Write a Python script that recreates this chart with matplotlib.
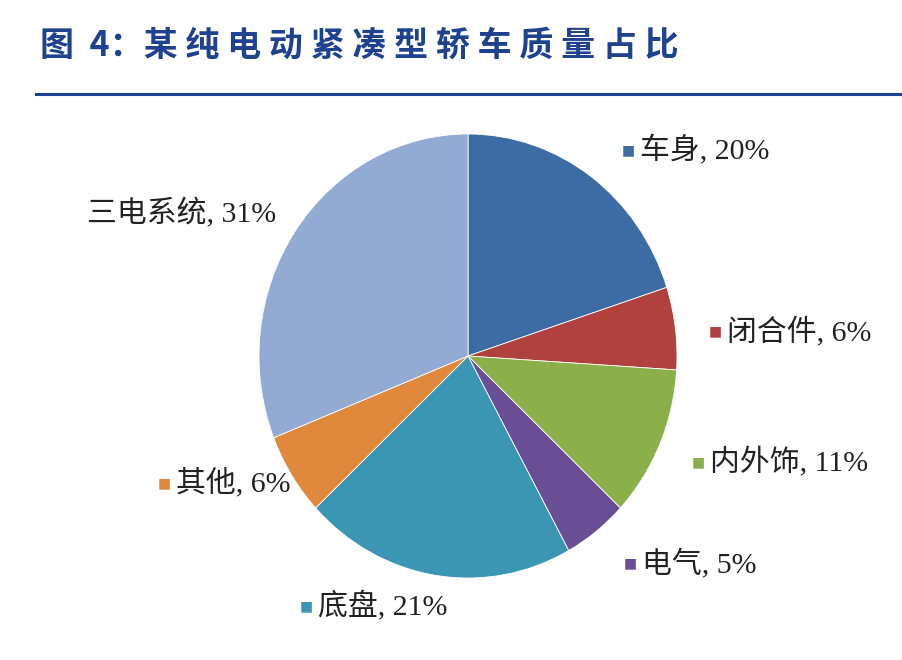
import matplotlib
matplotlib.use("Agg")
import matplotlib.pyplot as plt
from matplotlib.lines import Line2D

# data
categories = ["车身", "闭合件", "内外饰", "电气", "底盘", "其他", "三电系统"]
shares = [20, 6, 11, 5, 21, 6, 31]
colors = ["#3c6ca3", "#b0413e", "#8aaf4b", "#6a4e95", "#3a96b2", "#e0883c", "#93aad3"]
show_marker = [True, True, True, True, True, True, False]
title_head = "图  4："
title_body = "某纯电动紧凑型轿车质量占比"

# label anchors in figure pixels (left edge of text, vertical centre)
label_px = [(640, 150), (727, 331), (710, 462), (642, 563), (318, 606), (176, 483), (87, 213)]

W, H = 902, 660
fig = plt.figure(figsize=(W / 100, H / 100), dpi=100)
fig.patch.set_facecolor("white")

title_font = ["Noto Sans CJK SC", "DejaVu Sans"]
label_font = ["Liberation Serif", "Noto Sans CJK SC"]

# the reference title is set with wide tracking, so spread the characters out
fig.text(40 / W, 1 - 45 / H, title_head + " ".join(title_body), fontsize=24.5,
         fontweight="bold", color="#1f4290", family=title_font, va="center", ha="left")
fig.add_artist(Line2D([36 / W, 1.0], [1 - 94 / H, 1 - 94 / H], color="#1f4290",
                      lw=2.2, transform=fig.transFigure))

# pie (slightly taller than wide, as in the reference)
cx, cy, rx, ry = 468, 356, 209, 222
ax = fig.add_axes([(cx - rx) / W, 1 - (cy + ry) / H, 2 * rx / W, 2 * ry / H])
ax.pie(shares, colors=colors, startangle=90, counterclock=False,
       wedgeprops=dict(linewidth=0.6, edgecolor="white"))
ax.set_aspect("auto")
ax.set_xlim(-1, 1)
ax.set_ylim(-1, 1)
ax.axis("off")

for name, val, col, mk, (px, py) in zip(categories, shares, colors, show_marker, label_px):
    x = px / W
    y = 1 - py / H
    if mk:
        fig.text(x - 5 / W, y, "■", fontsize=10, color=col, ha="right", va="center",
                 family=["DejaVu Sans"])
    fig.text(x, y, f"{name}, {val}%", fontsize=21.5, color="#222222", ha="left",
             va="center", family=label_font)

fig.savefig("out.png", dpi=100, facecolor="white")
